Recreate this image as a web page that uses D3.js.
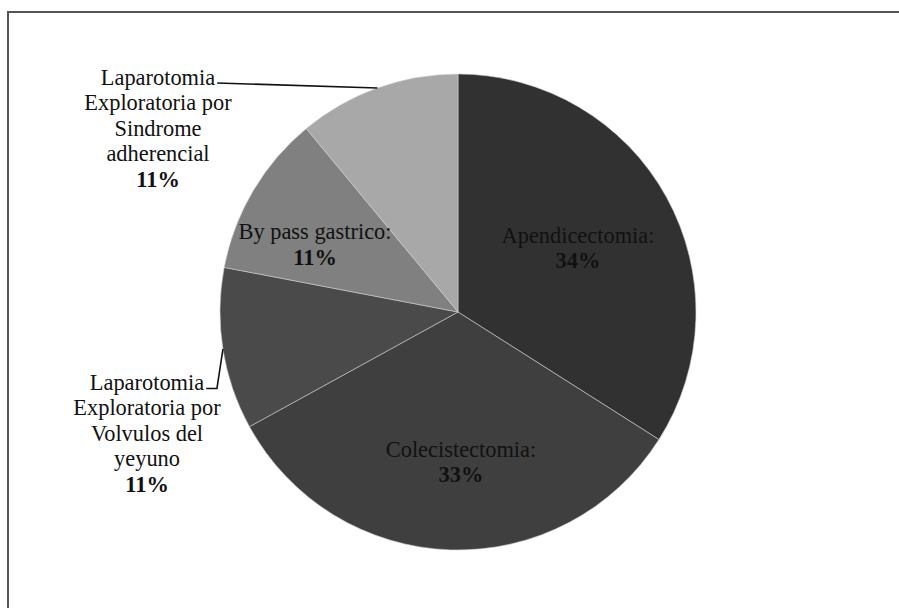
<!DOCTYPE html>
<html>
<head>
<meta charset="utf-8">
<script src="https://cdn.jsdelivr.net/npm/d3@7"></script>
<style>
  html, body { margin: 0; padding: 0; background: #ffffff; }
  svg { display: block; }
</style>
</head>
<body>
<svg id="chart" width="899" height="608"></svg>
<script>
// Procedures and their share of the total (percent)
const categories = [
  "Apendicectomia",
  "Colecistectomia",
  "Laparotomia Exploratoria por Volvulos del yeyuno",
  "By pass gastrico",
  "Laparotomia Exploratoria por Sindrome adherencial"
];
const values = [34, 33, 11, 11, 11];
const percentLabels = ["34%", "33%", "11%", "11%", "11%"];

// Wrapped name lines as printed next to each slice
const nameLines = [
  ["Apendicectomia:"],
  ["Colecistectomia:"],
  ["Laparotomia", "Exploratoria por", "Volvulos del", "yeyuno"],
  ["By pass gastrico:"],
  ["Laparotomia", "Exploratoria por", "Sindrome", "adherencial"]
];
const sliceColors = ["#313131", "#3f3f3f", "#4a4a4a", "#808080", "#a8a8a8"];

const W = 899, H = 608;
const cx = 458, cy = 312, R = 238;
const fontSize = 22.4, lineGap = 25.6;
const serifFont = "'Liberation Serif', Tinos, 'Times New Roman', Times, 'DejaVu Serif', serif";

const svg = d3.select("#chart");

// Outer frame (continues past the right and bottom edges)
svg.append("rect")
  .attr("x", 8).attr("y", 12)
  .attr("width", W + 20).attr("height", H + 20)
  .attr("fill", "none").attr("stroke", "#555").attr("stroke-width", 2);

const data = categories.map((c, i) => ({ name: c, value: values[i], i }));
const pie = d3.pie().value(d => d.value).sort(null).startAngle(0).endAngle(2 * Math.PI);
const arcs = pie(data);
const arc = d3.arc().innerRadius(0).outerRadius(R);

const g = svg.append("g").attr("transform", `translate(${cx},${cy})`);
g.selectAll("path.slice")
  .data(arcs)
  .join("path")
  .attr("class", "slice")
  .attr("d", arc)
  .attr("fill", d => sliceColors[d.index])
  .attr("stroke", "#cfcfcf")
  .attr("stroke-width", 0.6)
  .attr("stroke-linejoin", "round");

// Point on the rim at the middle of a slice
function rimPoint(a, r) {
  const m = (a.startAngle + a.endAngle) / 2;
  return [Math.sin(m) * r, -Math.cos(m) * r];
}

// Label block placement relative to the pie centre: [centre x, first baseline y]
const labelPlacement = [
  [120, -69.5],
  [3, 144.5],
  [-311, 77.5],
  [-143, -73],
  [-300, -227.5]
];

const labels = g.append("g");
const blocks = arcs.map(a => {
  const i = a.index;
  const [lx, ly] = labelPlacement[i];
  const t = labels.append("text")
    .attr("text-anchor", "middle")
    .attr("font-family", serifFont)
    .attr("font-size", fontSize)
    .attr("fill", "#111");
  const lines = nameLines[i];
  lines.forEach((ln, k) => {
    t.append("tspan").attr("x", lx).attr("y", ly + k * lineGap).text(ln);
  });
  t.append("tspan")
    .attr("x", lx).attr("y", ly + lines.length * lineGap)
    .attr("font-weight", "bold")
    .text(percentLabels[i]);
  return t;
});

// Leader lines for the two labels placed outside the pie
const leader = d3.line();
function firstLineEnd(i) {
  const span = blocks[i].select("tspan").node();
  const w = span.getComputedTextLength();
  return labelPlacement[i][0] + w / 2;
}
{
  // Sindrome adherencial
  const a = arcs[4];
  const end = rimPoint(a, R);
  const x0 = firstLineEnd(4) + 2;
  const y0 = labelPlacement[4][1] - 1.5;
  g.append("path")
    .attr("d", leader([[x0, y0], end]))
    .attr("fill", "none").attr("stroke", "#111").attr("stroke-width", 1.6);
}
{
  // Volvulos del yeyuno
  const a = arcs[2];
  const end = rimPoint(a, R);
  const x0 = firstLineEnd(2) + 2;
  const y0 = labelPlacement[2][1] - 1;
  g.append("path")
    .attr("d", leader([[x0, y0], [end[0] - 6, y0], end]))
    .attr("fill", "none").attr("stroke", "#111").attr("stroke-width", 1.6);
}
</script>
</body>
</html>
